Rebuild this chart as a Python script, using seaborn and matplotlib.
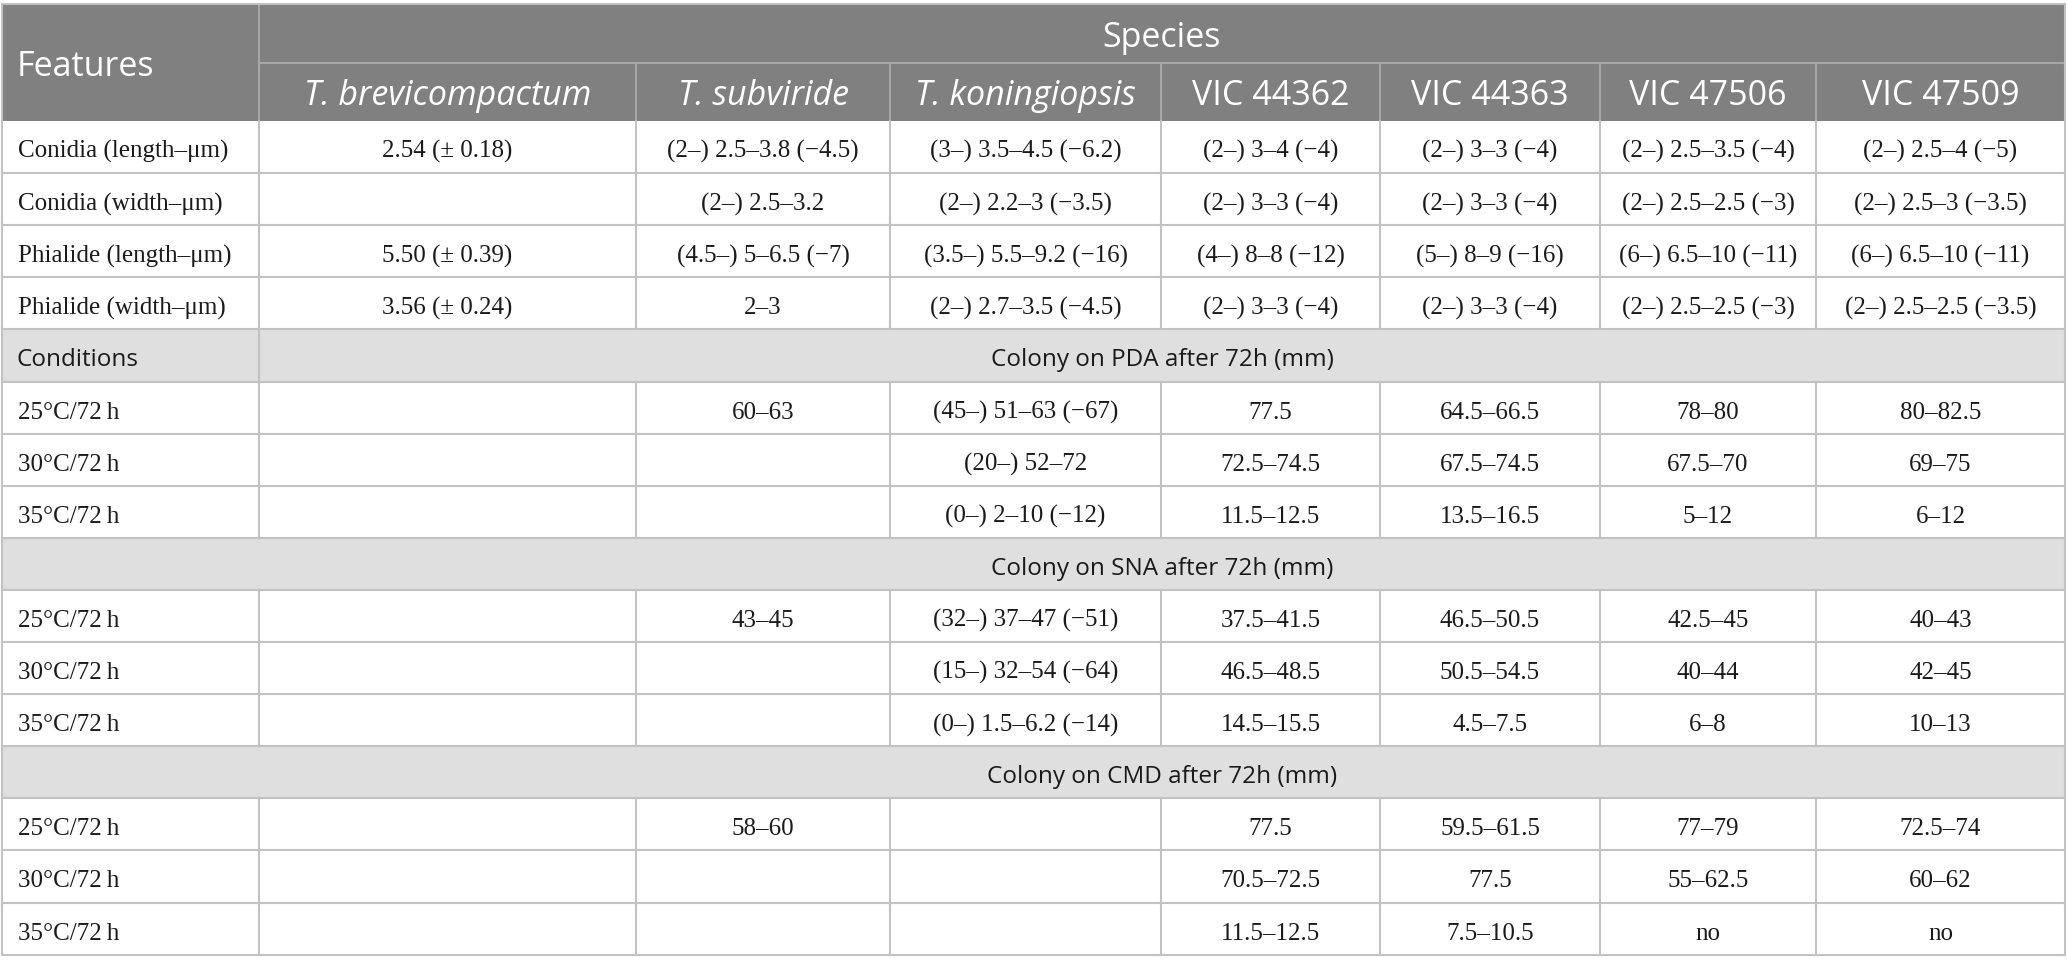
import matplotlib
matplotlib.use("Agg")
import matplotlib.pyplot as plt
from matplotlib.patches import Rectangle
import seaborn as sns

# ========== DATA ==========
species = ["T. brevicompactum", "T. subviride", "T. koningiopsis",
           "VIC 44362", "VIC 44363", "VIC 47506", "VIC 47509"]
italic_species = [True, True, True, False, False, False, False]

features = ["Conidia (length–μm)", "Conidia (width–μm)",
            "Phialide (length–μm)", "Phialide (width–μm)"]
conidia_length = ["2.54 (± 0.18)", "(2–) 2.5–3.8 (−4.5)", "(3–) 3.5–4.5 (−6.2)",
                  "(2–) 3–4 (−4)", "(2–) 3–3 (−4)", "(2–) 2.5–3.5 (−4)", "(2–) 2.5–4 (−5)"]
conidia_width = ["", "(2–) 2.5–3.2", "(2–) 2.2–3 (−3.5)",
                 "(2–) 3–3 (−4)", "(2–) 3–3 (−4)", "(2–) 2.5–2.5 (−3)", "(2–) 2.5–3 (−3.5)"]
phialide_length = ["5.50 (± 0.39)", "(4.5–) 5–6.5 (−7)", "(3.5–) 5.5–9.2 (−16)",
                   "(4–) 8–8 (−12)", "(5–) 8–9 (−16)", "(6–) 6.5–10 (−11)", "(6–) 6.5–10 (−11)"]
phialide_width = ["3.56 (± 0.24)", "2–3", "(2–) 2.7–3.5 (−4.5)",
                  "(2–) 3–3 (−4)", "(2–) 3–3 (−4)", "(2–) 2.5–2.5 (−3)", "(2–) 2.5–2.5 (−3.5)"]

conditions = ["25°C/72\u2009h", "30°C/72\u2009h", "35°C/72\u2009h"]
section_titles = ["Colony on PDA after 72h (mm)",
                  "Colony on SNA after 72h (mm)",
                  "Colony on CMD after 72h (mm)"]
pda_25 = ["", "60–63", "(45–) 51–63 (−67)", "77.5", "64.5–66.5", "78–80", "80–82.5"]
pda_30 = ["", "", "(20–) 52–72", "72.5–74.5", "67.5–74.5", "67.5–70", "69–75"]
pda_35 = ["", "", "(0–) 2–10 (−12)", "11.5–12.5", "13.5–16.5", "5–12", "6–12"]
sna_25 = ["", "43–45", "(32–) 37–47 (−51)", "37.5–41.5", "46.5–50.5", "42.5–45", "40–43"]
sna_30 = ["", "", "(15–) 32–54 (−64)", "46.5–48.5", "50.5–54.5", "40–44", "42–45"]
sna_35 = ["", "", "(0–) 1.5–6.2 (−14)", "14.5–15.5", "4.5–7.5", "6–8", "10–13"]
cmd_25 = ["", "58–60", "", "77.5", "59.5–61.5", "77–79", "72.5–74"]
cmd_30 = ["", "", "", "70.5–72.5", "77.5", "55–62.5", "60–62"]
cmd_35 = ["", "", "", "11.5–12.5", "7.5–10.5", "no", "no"]

# ========== LAYOUT (pixels) ==========
W, H = 2067, 973
col_edges = [2, 259, 636, 890, 1161, 1380, 1600, 1816, 2065]
header_top, header_mid, header_bot = 4, 63, 121
row_h = 52.1

HEADER_BG = "#7f807f"
SECTION_BG = "#e0dfe0"
HEADER_LINE = "#a6a7a6"
BODY_LINE = "#c2c2c2"
TEXT = "#1a1a1a"
SANS = ["Open Sans", "DejaVu Sans"]
SERIF = ["Liberation Serif", "DejaVu Serif"]
HEAD_FS, SEC_FS, BODY_FS = 24.5, 17.5, 18

sns.set_theme(style="white")
plt.rcParams["font.family"] = SANS

fig = plt.figure(figsize=(W / 100, H / 100), dpi=100)
ax = fig.add_axes([0, 0, 1, 1])
ax.set_xlim(0, W)
ax.set_ylim(H, 0)
ax.axis("off")

x0, x1 = col_edges[0], col_edges[-1]
lw = 1.5

# header block
ax.add_patch(Rectangle((x0, header_top), x1 - x0, header_bot - header_top,
                       facecolor=HEADER_BG, edgecolor="none"))
ax.text(x0 + 15, (header_top + header_bot) / 2 + 13.5, "Features", color="white",
        fontsize=HEAD_FS, va="baseline", ha="left", family=SANS)
ax.text((col_edges[1] + x1) / 2, (header_top + header_mid) / 2 + 13.5, "Species",
        color="white", fontsize=HEAD_FS, va="baseline", ha="center", family=SANS)
for i, (name, it) in enumerate(zip(species, italic_species)):
    cx = (col_edges[i + 1] + col_edges[i + 2]) / 2
    ax.text(cx, (header_mid + header_bot) / 2 + 13, name, color="white",
            fontsize=HEAD_FS, va="baseline", ha="center", family=SANS,
            style="italic" if it else "normal")
ax.plot([col_edges[1], x1], [header_mid, header_mid], color=HEADER_LINE, lw=lw)
ax.plot([col_edges[1], col_edges[1]], [header_top, header_bot], color=HEADER_LINE, lw=lw)
for xe in col_edges[2:-1]:
    ax.plot([xe, xe], [header_mid, header_bot], color=HEADER_LINE, lw=lw)

# body rows: (kind, label, values)
rows = []
for f, vals in zip(features, [conidia_length, conidia_width, phialide_length, phialide_width]):
    rows.append(("data", f, vals))
blocks = [[pda_25, pda_30, pda_35], [sna_25, sna_30, sna_35], [cmd_25, cmd_30, cmd_35]]
for k, (title, block) in enumerate(zip(section_titles, blocks)):
    rows.append(("section", "Conditions" if k == 0 else "", title))
    for c, vals in zip(conditions, block):
        rows.append(("data", c, vals))

y = header_bot
for kind, label, vals in rows:
    yt, yb = y, y + row_h
    base = (yt + yb) / 2 + 11
    if kind == "section":
        ax.add_patch(Rectangle((x0, yt), x1 - x0, row_h, facecolor=SECTION_BG,
                               edgecolor="none"))
        if label:
            ax.text(x0 + 15, base, label, fontsize=SEC_FS, va="baseline", ha="left",
                    color=TEXT, family=SANS)
            ax.plot([col_edges[1]] * 2, [yt, yb], color=BODY_LINE, lw=lw)
        ax.text((col_edges[1] + x1) / 2, base, vals, fontsize=SEC_FS, va="baseline",
                ha="center", color=TEXT, family=SANS)
    else:
        ax.text(x0 + 16, base, label, fontsize=BODY_FS, va="baseline", ha="left",
                color=TEXT, family=SERIF)
        for i, v in enumerate(vals):
            cx = (col_edges[i + 1] + col_edges[i + 2]) / 2
            ax.text(cx, base, v, fontsize=BODY_FS, va="baseline", ha="center",
                    color=TEXT, family=SERIF)
        for xe in col_edges[1:-1]:
            ax.plot([xe, xe], [yt, yb], color=BODY_LINE, lw=lw)
    ax.plot([x0, x1], [yb, yb], color=BODY_LINE, lw=lw)
    y = yb

# outer border
ax.plot([x0, x0], [header_top, y], color=BODY_LINE, lw=lw)
ax.plot([x1, x1], [header_top, y], color=BODY_LINE, lw=lw)
ax.plot([x0, x1], [header_top, header_top], color=BODY_LINE, lw=lw)

fig.savefig("out.png", dpi=100, facecolor="white")
